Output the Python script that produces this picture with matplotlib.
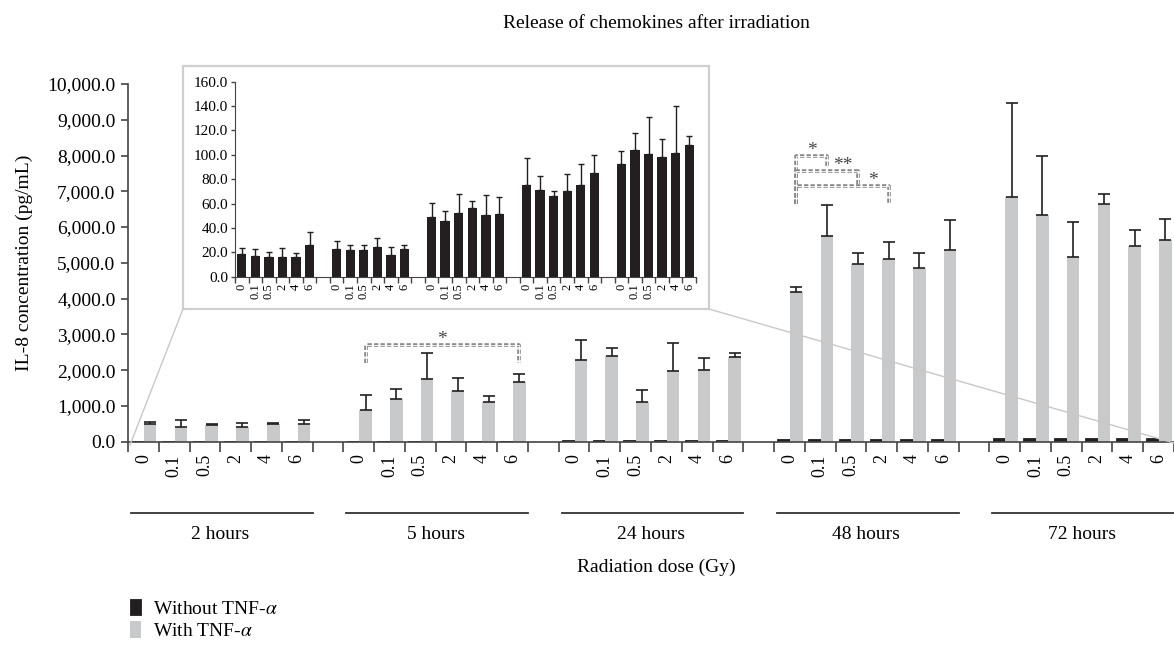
import matplotlib
matplotlib.use('Agg')
import matplotlib.pyplot as plt
import numpy as np
from matplotlib.patches import Rectangle
from matplotlib.lines import Line2D
from matplotlib.ticker import FuncFormatter

plt.rcParams['font.family'] = ['Liberation Serif', 'DejaVu Serif']
plt.rcParams['mathtext.fontset'] = 'stix'

times = ['2 hours', '5 hours', '24 hours', '48 hours', '72 hours']
doses = ['0', '0.1', '0.5', '2', '4', '6']

# without TNF-alpha, mean and upper error
without_mean = [
    [18.8, 17.0, 16.3, 16.3, 15.8, 26.4],
    [22.6, 21.8, 21.8, 24.0, 18.0, 22.6],
    [48.7, 45.7, 52.5, 56.3, 50.3, 51.1],
    [75.5, 71.1, 66.5, 70.3, 74.9, 84.8],
    [92.4, 103.9, 100.7, 97.9, 101.5, 108.3],
]
without_err = [
    [4.4, 5.5, 3.8, 6.9, 3.8, 10.5],
    [6.8, 4.6, 3.8, 7.9, 6.0, 3.8],
    [11.5, 8.5, 15.3, 5.5, 16.7, 14.5],
    [22.1, 11.8, 3.8, 14.2, 17.3, 15.0],
    [11.0, 13.7, 30.6, 15.1, 38.5, 7.4],
]
# with TNF-alpha
with_mean = [
    [500, 400, 460, 400, 500, 500],
    [887, 1195, 1755, 1410, 1102, 1671],
    [2278, 2409, 1102, 1979, 2017, 2372],
    [4192, 5761, 4977, 5107, 4846, 5369],
    [6853, 6340, 5154, 6639, 5462, 5630],
]
with_err = [
    [60, 200, 30, 130, 30, 120],
    [420, 290, 738, 383, 168, 215],
    [560, 205, 345, 775, 336, 121],
    [122, 868, 298, 467, 429, 821],
    [2615, 1634, 980, 289, 467, 598],
]

# significance brackets (slots of the compared bars, heights, label)
sig_left = [7, 21, 21, 21]
sig_right = [12, 22, 23, 24]
sig_top = [2700, 8000, 7563, 7143]
sig_left_end = [2190, 6658, 6658, 6658]
sig_right_end = [2190, 7686, 7162, 6658]
sig_label = ['*', '*', '**', '*']

black = '#231f20'
grey = '#c8c9ca'

ng = len(times)
nd = len(doses)
slots = np.array([g * (nd + 1) + i for g in range(ng) for i in range(nd)])
wo_m = np.array(without_mean).ravel()
wo_e = np.array(without_err).ravel()
w_m = np.array(with_mean).ravel()
w_e = np.array(with_err).ravel()

W, H = 1174, 646
fig = plt.figure(figsize=(W / 100, H / 100), dpi=100)

def px(x0, y0, x1, y1):
    # pixel box -> figure fraction [left, bottom, width, height]
    return [x0 / W, 1 - y1 / H, (x1 - x0) / W, (y1 - y0) / H]

ax = fig.add_axes(px(128, 84, 1174, 441.7))
bw = 0.41
ax.bar(slots - 0.19, wo_m, width=bw, color=black, edgecolor=black, linewidth=0.6,
       label='Without TNF-$\\alpha$', zorder=2)
ax.bar(slots + 0.22, w_m, width=bw, color=grey, label='With TNF-$\\alpha$', zorder=2)
ax.errorbar(slots + 0.22, w_m, yerr=[np.zeros_like(w_e), w_e], fmt='none',
            ecolor=black, elinewidth=1.2, capsize=4, capthick=1.2, zorder=3)

ax.set_ylim(0, 10000)
ax.set_xlim(-0.5, -0.5 + 1046 / 31.05)
ax.set_yticks(np.arange(0, 10001, 1000))
ax.yaxis.set_major_formatter(FuncFormatter(lambda v, p: f'{v:,.1f}'))
bounds = sorted(set([s - 0.5 for s in slots] + [s + 0.5 for s in slots]))
ax.set_xticks(bounds)
ax.set_xticklabels([])
ax.set_xticks(slots, minor=True)
ax.set_xticklabels(doses * ng, minor=True, rotation=90, fontsize=13)
ax.tick_params(axis='x', which='major', direction='out', length=7, width=1.2, color='#444444')
ax.tick_params(axis='x', which='minor', length=0, pad=9)
ax.tick_params(axis='y', direction='out', length=5, width=1.2, color='#444444', labelsize=14, pad=4)
for s in ['top', 'right']:
    ax.spines[s].set_visible(False)
for s in ['left', 'bottom']:
    ax.spines[s].set_color('#444444')
    ax.spines[s].set_linewidth(1.2)
ax.set_ylabel('IL-8 concentration (pg/mL)', fontsize=14, labelpad=10)

# significance brackets
for k, (l, r, top, le, re, lab) in enumerate(zip(sig_left, sig_right, sig_top,
                                                   sig_left_end, sig_right_end, sig_label)):
    xl, xr = l + 0.22, r + 0.22
    for lw, c, ls in [(2.6, '#8a8a8a', (0, (1.2, 0.6))), (0.6, 'white', '-')]:
        ax.plot([xl, xl, xr, xr], [le, top, top, re], color=c, lw=lw, ls=ls,
                solid_capstyle='butt', zorder=4)
    # star sits over the part of the bracket not shared with a shorter one
    prev = [r2 for l2, r2 in zip(sig_left, sig_right) if l2 == l and r2 < r]
    start = max(prev) if prev else l
    ax.text((start + r) / 2 + 0.22, top - 90, lab, ha='center', va='bottom',
            fontsize=14, color='#444444')

# group lines and labels below the axis
trans = ax.get_xaxis_transform()
for g, t in enumerate(times):
    x0 = g * (nd + 1) - 0.4
    x1 = g * (nd + 1) + nd - 0.5
    ax.add_line(Line2D([x0, x1], [-0.199, -0.199], transform=trans, color='#333333',
                       lw=1.3, clip_on=False))
    ax.text(g * (nd + 1) + 2.5, -0.26, t, transform=trans, ha='center', va='center',
            fontsize=14)

fig.text(656 / W, 1 - 567 / H, 'Radiation dose (Gy)', ha='center', va='center', fontsize=14)
fig.text(656 / W, 1 - 24 / H, 'Release of chemokines after irradiation', ha='center',
         va='center', fontsize=14)

# inset with the low values
box = Rectangle((183 / W, 1 - 309 / H), 526 / W, 243 / H, transform=fig.transFigure,
                fill=False, edgecolor='#cfcfcf', lw=1.6)
fig.patches.append(box)
fig.add_artist(Line2D([183 / W, 130 / W], [1 - 309 / H, 1 - 445 / H], transform=fig.transFigure,
                      color='#c8c8c8', lw=1.0))
fig.add_artist(Line2D([709 / W, 1174 / W], [1 - 309 / H, 1 - 443 / H], transform=fig.transFigure,
                      color='#c8c8c8', lw=1.0))

axi = fig.add_axes(px(235, 81.7, 696, 276.7))
axi.bar(slots, wo_m, width=0.69, color=black, zorder=2)
axi.errorbar(slots, wo_m, yerr=[np.zeros_like(wo_e), wo_e], fmt='none', ecolor=black,
             elinewidth=1.0, capsize=2, capthick=1.0, zorder=3)
axi.set_xlim(-0.5, slots[-1] + 0.5)
axi.set_ylim(0, 160)
axi.set_yticks(np.arange(0, 161, 20))
axi.yaxis.set_major_formatter(FuncFormatter(lambda v, p: f'{v:.1f}'))
axi.set_xticks(bounds)
axi.set_xticklabels([])
axi.set_xticks(slots, minor=True)
axi.set_xticklabels(doses * ng, minor=True, rotation=90, fontsize=9)
axi.tick_params(axis='x', which='major', direction='out', length=4, width=1.0, color='#444444')
axi.tick_params(axis='x', which='minor', length=0, pad=5)
axi.tick_params(axis='y', direction='out', length=3, width=1.0, color='#444444', labelsize=11, pad=2)
for s in ['top', 'right']:
    axi.spines[s].set_visible(False)
for s in ['left', 'bottom']:
    axi.spines[s].set_color('#444444')

h, lb = ax.get_legend_handles_labels()
fig.legend(h, lb, loc='upper left', bbox_to_anchor=(122 / W, 1 - 591 / H), frameon=False,
           fontsize=14, handlelength=0.6, handleheight=0.9, handletextpad=0.6, labelspacing=0.2,
           borderaxespad=0.0)

fig.savefig('out.png', dpi=100)
